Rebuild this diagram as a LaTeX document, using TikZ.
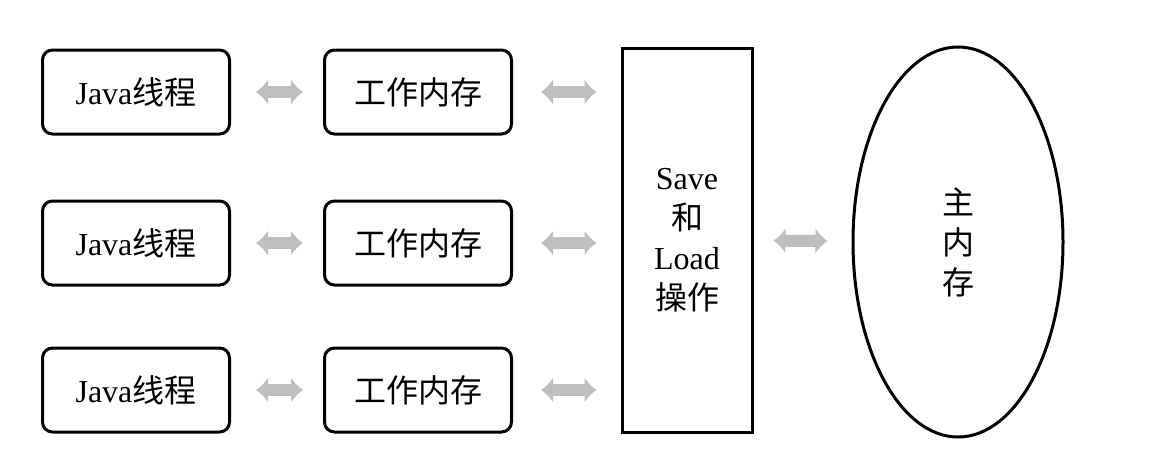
\documentclass[tikz,border=0pt]{standalone}
\usepackage{fontspec}
\setmainfont{Liberation Serif}
\newfontfamily\cjk{Noto Sans CJK SC}
\usetikzlibrary{positioning,calc,arrows.meta,shapes.geometric}

\begin{document}
\begin{tikzpicture}[x=1pt,y=-1pt,font=\fontsize{32}{40}\selectfont]
  \tikzset{
    unit/.style={draw,line width=3pt,rounded corners=10pt,
                 minimum width=187pt,minimum height=84pt,inner sep=0pt},
    opbox/.style={draw,line width=3pt,minimum width=130pt,
                  minimum height=384pt,inner sep=0pt,align=center},
    mainmem/.style={draw,ellipse,line width=3pt,minimum width=210pt,
                    minimum height=390pt,inner sep=0pt,align=center},
    link/.style={line width=12pt,black!25,
                 {Latex[length=12pt,width=26pt]}-{Latex[length=12pt,width=26pt]}},
  }
  \useasboundingbox (0,0) rectangle (1172,450);
  % ---- threads and their working memory ----
  \foreach \r/\y in {1/92,2/243,3/390} {
    \node[unit] (java\r) at (136,\y) {Java{\cjk 线程}};
    \node[unit] (mem\r) at (418,\y) {{\cjk 工作内存}};
    \draw[link,shorten <=25pt,shorten >=20pt] (java\r) -- (mem\r);
  }
  % ---- save / load ----
  \node[opbox] (saveload) at (687,240)
       {Save\\{\cjk 和}\\Load\\{\cjk 操作}};
  \foreach \r in {1,2,3}
    \draw[link,shorten <=28pt,shorten >=24pt] (mem\r.east) -- (mem\r -| saveload.west);
  % ---- main memory ----
  \node[mainmem] (mainmem) at (958,242) {{\cjk 主}\\{\cjk 内}\\{\cjk 存}};
  \draw[link,shorten <=20pt,shorten >=24pt] (saveload) -- (mainmem);
\end{tikzpicture}
\end{document}
